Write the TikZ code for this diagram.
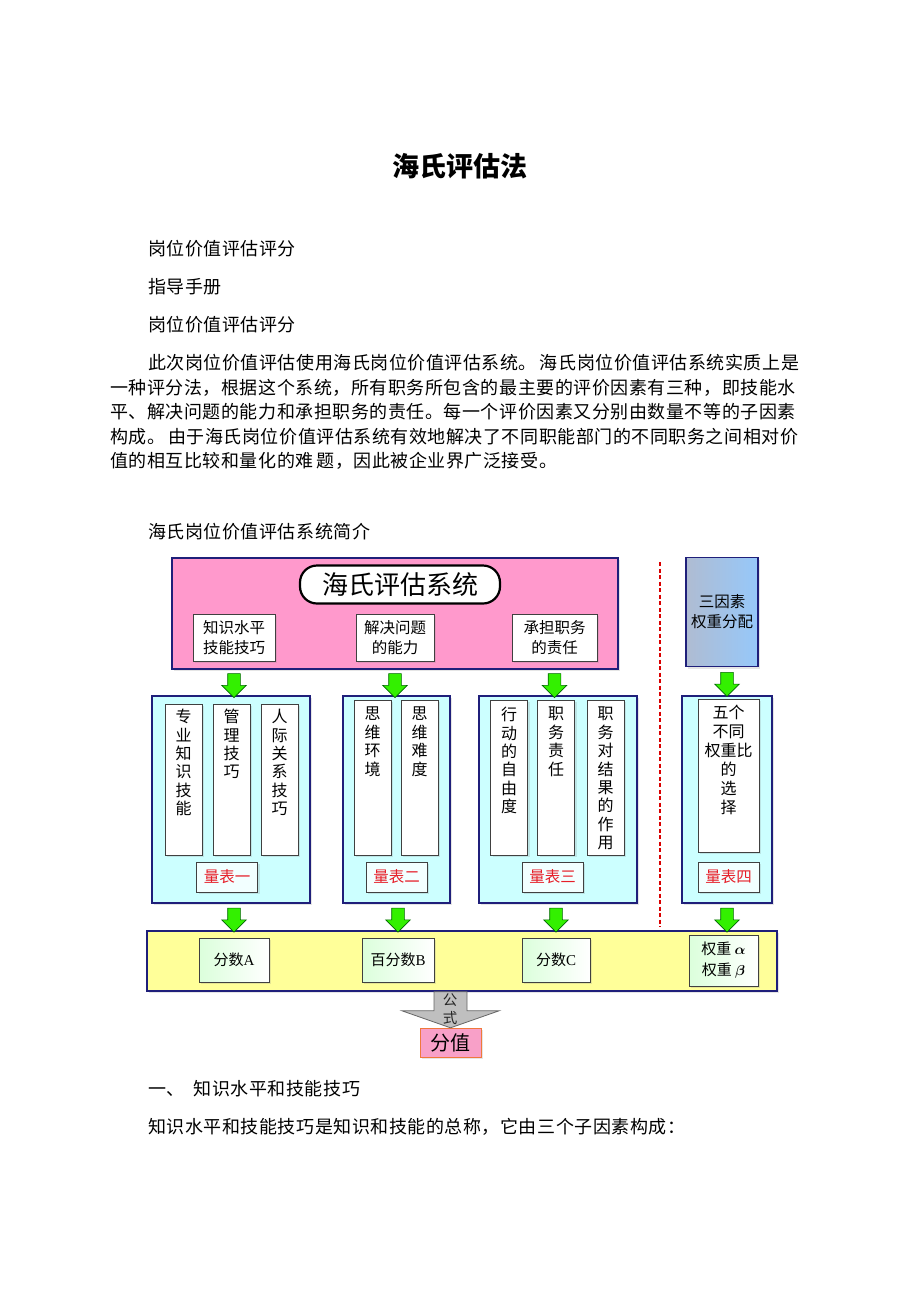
\documentclass[tikz,border=0pt]{standalone}
\usepackage{fontspec}
\setmainfont{Noto Sans CJK SC}
\newfontfamily\bodyfont[LetterSpace=3.0]{Noto Sans CJK SC}
\newfontfamily\latinserif{Liberation Serif}
\usetikzlibrary{shapes.arrows,shadows}

\definecolor{navy}{RGB}{31,31,122}
\definecolor{hpink}{RGB}{255,153,204}
\definecolor{hcyan}{RGB}{204,255,255}
\definecolor{hyellow}{RGB}{255,255,153}
\definecolor{hgreen}{RGB}{51,240,0}
\definecolor{hblue}{RGB}{150,200,250}
\definecolor{hgrayblue}{RGB}{175,188,210}
\definecolor{scalered}{RGB}{230,30,40}
\definecolor{valpink}{RGB}{248,160,200}
\definecolor{valorange}{RGB}{240,120,60}

\tikzset{
  bodytext/.style={anchor=west, inner sep=0pt, font=\bodyfont\fontsize{18}{22}\selectfont},
  softshadow/.style={drop shadow={shadow xshift=2pt, shadow yshift=-2pt, opacity=.2}},
  navyframe/.style={draw=navy, line width=1.6pt, inner sep=0pt, softshadow},
  titlebox/.style={draw=black, line width=2.2pt, fill=white, rounded corners=17pt, inner sep=0pt,
    font=\fontsize{26}{30}\selectfont},
  factor/.style={draw=black!75, line width=0.9pt, fill=white, align=center, inner sep=0pt,
    minimum height=47pt, font=\fontsize{15.5}{19.5}\selectfont, softshadow},
  colbox/.style={draw=black!75, line width=0.9pt, fill=white, inner sep=0pt, minimum width=37pt, softshadow},
  coltext/.style={anchor=north, align=center, inner sep=0pt, font=\fontsize{16}{18.4}\selectfont},
  scalebox/.style={draw=black!75, line width=0.9pt, fill=hcyan!25, text=scalered, inner sep=0pt,
    minimum width=61pt, minimum height=30pt, font=\fontsize{15.5}{18}\selectfont, softshadow},
  scorebox/.style={draw=black!75, line width=0.9pt, left color=green!14, right color=white, inner sep=0pt,
    align=center, minimum height=44pt, font=\fontsize{15}{22}\selectfont, softshadow},
  garrow/.style={single arrow, shape border rotate=270, draw=green!40!black, fill=hgreen, line width=0.6pt,
    inner sep=6pt, minimum height=24pt, minimum width=24pt, single arrow head extend=6pt},
  formulaarrow/.style={draw=black!60, fill=black!25, line width=0.8pt},
  divider/.style={draw=red!85!black, line width=2.4pt, dash pattern=on 4pt off 2.5pt},
}

\begin{document}
\begin{tikzpicture}[x=1pt,y=1pt,yscale=-1]
\useasboundingbox (0,0) rectangle (920,1302);
\fill[white] (0,0) rectangle (920,1302);

% Title
\draw (460,166) node[font=\fontsize{27}{32}\selectfont\bfseries] (title) {海氏评估法};

% Text Node
\draw (148,249) node[bodytext] (line1) {岗位价值评估评分};
\draw (148,287) node[bodytext] (line2) {指导手册};
\draw (148,325) node[bodytext] (line3) {岗位价值评估评分};

% Paragraph
\draw (148,363) node[bodytext] (par1) {此次岗位价值评估使用海氏岗位价值评估系统。\hspace{3pt}海氏岗位价值评估系统实质上是};
\draw (110,388) node[bodytext] (par2) {一种评分法，根据这个系统，所有职务所包含的最主要的评价因素有三种，即技能水};
\draw (110,412) node[bodytext] (par3) {平、解决问题的能力和承担职务的责任。每一个评价因素又分别由数量不等的子因素};
\draw (110,437) node[bodytext] (par4) {构成。\hspace{3pt}由于海氏岗位价值评估系统有效地解决了不同职能部门的不同职务之间相对价};
\draw (110,461) node[bodytext] (par5) {值的相互比较和量化的难\hspace{3pt}题，因此被企业界广泛接受。};

% Text Node
\draw (148,532) node[bodytext] (intro) {海氏岗位价值评估系统简介};

%Shape: top frame
\draw (395,613.5) node[navyframe, fill=hpink, minimum width=446pt, minimum height=111pt] (sys) {};
\draw (400,584.5) node[titlebox, minimum width=200pt, minimum height=38pt] (systitle) {海氏评估系统};
\draw (234,637.5) node[factor, minimum width=82pt] (know) {知识水平\\技能技巧};
\draw (395,637.5) node[factor, minimum width=78pt] (solve) {解决问题\\的能力};
\draw (554.5,637.5) node[factor, minimum width=85pt] (resp) {承担职务\\的责任};

%Shape: weight box
\draw (722,612) node[navyframe, left color=hgrayblue, right color=hblue, minimum width=72pt, minimum height=109pt,
  align=center, font=\fontsize{15.5}{20}\selectfont] (tri) {三因素\\权重分配};

%cluster 1
\draw (231,799.5) node[navyframe, fill=hcyan, minimum width=158pt, minimum height=207pt] (colA) {};
\draw (183.5,779.5) node[colbox, minimum height=151pt] (boxA1) {};
\draw (231.5,779.5) node[colbox, minimum height=151pt] (boxA2) {};
\draw (279.5,779.5) node[colbox, minimum height=151pt] (boxA3) {};
\draw (183.5,709) node[coltext] (txtA1) {专\\业\\知\\识\\技\\能};
\draw (231.5,709) node[coltext] (txtA2) {管\\理\\技\\巧};
\draw (279.5,709) node[coltext] (txtA3) {人\\际\\关\\系\\技\\巧};
\draw (227,877) node[scalebox] (scaleA) {量表一};

%cluster 2
\draw (396.5,799.5) node[navyframe, fill=hcyan, minimum width=107pt, minimum height=207pt] (colB) {};
\draw (372.5,777.5) node[colbox, minimum height=155pt] (boxB1) {};
\draw (419.5,777.5) node[colbox, minimum height=155pt] (boxB2) {};
\draw (372.5,707) node[coltext] (txtB1) {思\\维\\环\\境};
\draw (419.5,707) node[coltext] (txtB2) {思\\维\\难\\度};
\draw (396.5,877) node[scalebox] (scaleB) {量表二};

%cluster 3
\draw (558,799.5) node[navyframe, fill=hcyan, minimum width=158pt, minimum height=207pt] (colC) {};
\draw (509,777.5) node[colbox, minimum height=155pt] (boxC1) {};
\draw (556,777.5) node[colbox, minimum height=155pt] (boxC2) {};
\draw (605.5,777.5) node[colbox, minimum height=155pt] (boxC3) {};
\draw (509,707) node[coltext] (txtC1) {行\\动\\的\\自\\由\\度};
\draw (556,707) node[coltext] (txtC2) {职\\务\\责\\任};
\draw (605.5,707) node[coltext] (txtC3) {职\\务\\对\\结\\果\\的\\作\\用};
\draw (552.5,877) node[scalebox] (scaleC) {量表三};

%cluster 4
\draw (727,799.5) node[navyframe, fill=hcyan, minimum width=90pt, minimum height=207pt] (colD) {};
\draw (728.5,775.5) node[colbox, minimum width=61pt, minimum height=153pt] (boxD1) {};
\draw (728.5,705) node[coltext, font=\fontsize{16}{19}\selectfont] (txtD1) {五个\\不同\\权重比\\的\\选\\择};
\draw (728.5,877) node[scalebox] (scaleD) {量表四};

%Shape: bottom band
\draw (462,961) node[navyframe, fill=hyellow, minimum width=630pt, minimum height=60pt] (band) {};
\draw (234,960) node[scorebox, minimum width=70pt] (scoreA) {分数{\latinserif A}};
\draw (398,960) node[scorebox, minimum width=72pt] (scoreB) {百分数{\latinserif B}};
\draw (556,960) node[scorebox, minimum width=68pt] (scoreC) {分数{\latinserif C}};
\draw (723.5,960.5) node[scorebox, minimum width=69pt, minimum height=51pt] (scoreD) {权重 {\boldmath$\alpha$}\\[-1pt]权重 {\boldmath$\beta$}};

% result
\draw (450.5,1042.5) node[draw=valorange, line width=1pt, fill=valpink, minimum width=61pt, minimum height=29pt,
  inner sep=0pt, font=\fontsize{20}{24}\selectfont, softshadow] (value) {分值};

% green arrows
\path (know |- sys.south) -- (know |- colA.north) node[midway, garrow] (ga1) {};
\path (solve |- sys.south) -- (solve |- colB.north) node[midway, garrow] (ga2) {};
\path (resp |- sys.south) -- (resp |- colC.north) node[midway, garrow] (ga3) {};
\path (colD |- tri.south) -- (colD.north) node[midway, garrow] (ga4) {};
\path (scoreA |- colA.south) -- (scoreA |- band.north) node[midway, garrow] (gb1) {};
\path (scoreB |- colB.south) -- (scoreB |- band.north) node[midway, garrow] (gb2) {};
\path (scoreC |- colC.south) -- (scoreC |- band.north) node[midway, garrow] (gb3) {};
\path (colD.south) -- (colD |- band.north) node[midway, garrow] (gb4) {};

% formula arrow
\draw[formulaarrow] ([xshift=-16.5pt]value.north |- band.south) -- ++(0,19) -- ++(-32,0) -- ++(48.5,17)
  -- ++(48.5,-17) -- ++(-32,0) -- ++(0,-19) -- cycle;
\draw (450,1009) node[align=center, inner sep=0pt, font=\fontsize{14.5}{18}\selectfont, text=black!85] (formula) {公\\式};

% divider
\coordinate (divtop) at (660,562);
\coordinate (divbot) at (660,927);
\draw[divider] (divtop) -- (divbot);

% Text Node
\draw (148,1089) node[bodytext] (sec1) {一、\hspace{9pt}知识水平和技能技巧};
\draw (148,1127) node[bodytext] (sec1text) {知识水平和技能技巧是知识和技能的总称，它由三个子因素构成：};
\end{tikzpicture}
\end{document}
